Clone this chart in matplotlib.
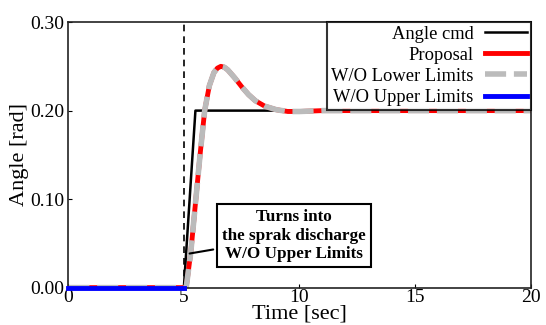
import matplotlib
matplotlib.use("Agg")
import matplotlib.pyplot as plt

plt.rcParams['font.family'] = ['Liberation Serif', 'DejaVu Serif']

# angle command (ramp step)
cmd_t = [0, 5.0, 5.5, 20]
cmd_y = [0, 0, 0.20, 0.20]

# proposal response
prop_t = [0, 5.1, 5.3, 5.5, 5.7, 5.9, 6.1, 6.3, 6.45, 6.6, 6.75, 6.9, 7.2,
          7.5, 7.8, 8.1, 8.5, 9.0, 9.5, 10.0, 11.0, 20]
prop_y = [0, 0, 0.04, 0.095, 0.15, 0.20, 0.228, 0.243, 0.248, 0.250, 0.249,
          0.246, 0.237, 0.227, 0.218, 0.211, 0.205, 0.201, 0.199, 0.199, 0.200, 0.200]

# W/O lower limits follows the proposal
low_t = prop_t
low_y = prop_y

# W/O upper limits (only visible before the discharge)
up_t = [0, 5.0]
up_y = [0, 0]

fig, ax = plt.subplots(figsize=(5.46, 3.25), dpi=100)
fig.subplots_adjust(left=0.125, right=0.972, top=0.932, bottom=0.115)

ax.axvline(5.0, color='black', ls='--', lw=1.2, dashes=(4, 3))
ax.plot(cmd_t, cmd_y, color='black', lw=1.8, label='Angle cmd')
ax.plot(prop_t, prop_y, color='red', lw=3.5, label='Proposal')
ax.plot(low_t, low_y, color='#bbbbbb', lw=4, ls='--', dashes=(3.8, 1.4), label='W/O Lower Limits')
ax.plot(up_t, up_y, color='blue', lw=3.5, label='W/O Upper Limits', clip_on=False, zorder=5)

ax.set_xlim(0, 20)
ax.set_ylim(0, 0.30)
ax.set_xticks([0, 5, 10, 15, 20])
ax.set_yticks([0, 0.10, 0.20, 0.30])
ax.set_yticklabels(['0.00', '0.10', '0.20', '0.30'])
ax.tick_params(direction='in', labelsize=14, length=3)
ax.tick_params(axis='x', pad=1)
ax.tick_params(axis='y', pad=3)
for s in ax.spines.values():
    s.set_linewidth(1.2)
    s.set_color('#222222')

ax.set_xlabel('Time [sec]', fontsize=16, labelpad=-1)
ax.set_ylabel('Angle [rad]', fontsize=16, labelpad=1)

leg = ax.legend(loc='upper right', markerfirst=False, fontsize=13.3,
                frameon=True, fancybox=False, edgecolor='black',
                borderaxespad=0, handlelength=2.3, labelspacing=0.22,
                borderpad=0.2, handletextpad=0.6)
leg.get_frame().set_linewidth(1.5)
leg.set_zorder(10)
for t in leg.get_texts():
    t.set_ha('right')

ax.annotate('Turns into\nthe sprak discharge\nW/O Upper Limits',
            xy=(5.13, 0.038), xytext=(9.75, 0.0586),
            ha='center', va='center', fontsize=12.3, fontweight='bold',
            linespacing=1.2,
            bbox=dict(boxstyle='square,pad=0.3', fc='white', ec='black', lw=1.5),
            arrowprops=dict(arrowstyle='-', color='black', lw=1.5))

fig.savefig('out.png', dpi=100)
